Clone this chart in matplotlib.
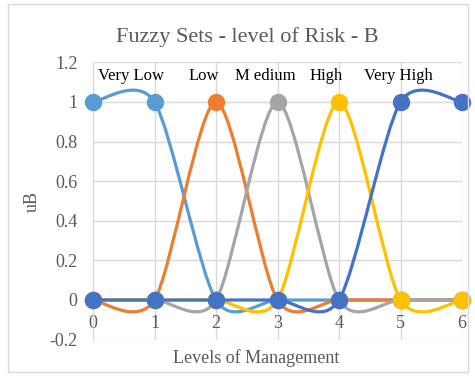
import numpy as np
import matplotlib.pyplot as plt
from matplotlib.path import Path
from matplotlib.patches import PathPatch, Rectangle

# niveles de gestion y grados de pertenencia de cada conjunto difuso
niveles = [0, 1, 2, 3, 4, 5, 6]
muy_bajo = [1, 1, 0, 0, 0, 0, 0]
bajo = [0, 0, 1, 0, 0, 0, 0]
medio = [0, 0, 0, 1, 0, 0, 0]
alto = [0, 0, 0, 0, 1, 0, 0]
muy_alto = [0, 0, 0, 0, 0, 1, 1]

etiquetas = ['Very Low', 'Low', 'M edium', 'High', 'Very High']
pos_etiquetas = [0.61, 1.8, 2.8, 3.79, 4.96]
colores = ['#5B9BD5', '#ED7D31', '#A5A5A5', '#FFC000', '#4472C4']
gris_texto = '#595959'

plt.rcParams['font.family'] = ['Liberation Serif', 'DejaVu Serif']


# curva suavizada tipo excel (bezier con tangentes de catmull-rom)
def curva_suave(x, y, k=0.135):
    p = np.column_stack([x, y]).astype(float)
    p = np.vstack([p[0], p, p[-1]])
    verts = [tuple(p[1])]
    codes = [Path.MOVETO]
    for i in range(1, len(p) - 2):
        c1 = p[i] + (p[i + 1] - p[i - 1]) * k
        c2 = p[i + 1] - (p[i + 2] - p[i]) * k
        verts += [tuple(c1), tuple(c2), tuple(p[i + 1])]
        codes += [Path.CURVE4] * 3
    return Path(verts, codes)


fig = plt.figure(figsize=(4.75, 3.76), dpi=100)
fig.patches.append(Rectangle((8 / 475, 4 / 376), 460 / 475, 368 / 376,
                             transform=fig.transFigure, fill=False,
                             edgecolor='#D9D9D9', lw=1))

ax = fig.add_axes([93 / 475, 36.4 / 376, 369 / 475, 277.2 / 376])

series = [muy_bajo, bajo, medio, alto, muy_alto]
for k, (serie, c) in enumerate(zip(series, colores)):
    ax.add_patch(PathPatch(curva_suave(niveles, serie), fill=False,
                           edgecolor=c, lw=2.3, zorder=3 + k, clip_on=False))
    ax.plot(niveles, serie, 'o', color=c, ms=11.5, zorder=3 + k, clip_on=False)

for texto, xp in zip(etiquetas, pos_etiquetas):
    ax.text(xp, 1.13, texto, ha='center', va='center', fontsize=12, color='black')

ax.set_xlim(0, 6)
ax.set_ylim(-0.2, 1.2)
ax.set_yticks(np.arange(-0.2, 1.21, 0.2))
ax.set_yticklabels(['-0.2', '0', '0.2', '0.4', '0.6', '0.8', '1', '1.2'])
ax.set_xticks(niveles)
ax.grid(color='#D9D9D9', lw=1)
ax.set_axisbelow(True)
for s in ['top', 'right']:
    ax.spines[s].set_visible(False)
ax.spines['left'].set_color('#D9D9D9')
ax.spines['bottom'].set_position(('data', 0))
ax.spines['bottom'].set_color('#D9D9D9')
ax.tick_params(axis='both', length=0, labelsize=13, labelcolor=gris_texto)
ax.tick_params(axis='y', pad=11)
ax.tick_params(axis='x', pad=11)

fig.text(247 / 475, 1 - 37 / 376, 'Fuzzy Sets - level of Risk - B',
         ha='center', va='center', fontsize=16, color=gris_texto)
fig.text(256 / 475, 1 - 358 / 376, 'Levels of Management',
         ha='center', va='center', fontsize=13, color=gris_texto)
fig.text(32 / 475, 1 - 202 / 376, 'uB', rotation=90,
         ha='center', va='center', fontsize=13, color=gris_texto)

fig.savefig('out.png', dpi=100)
